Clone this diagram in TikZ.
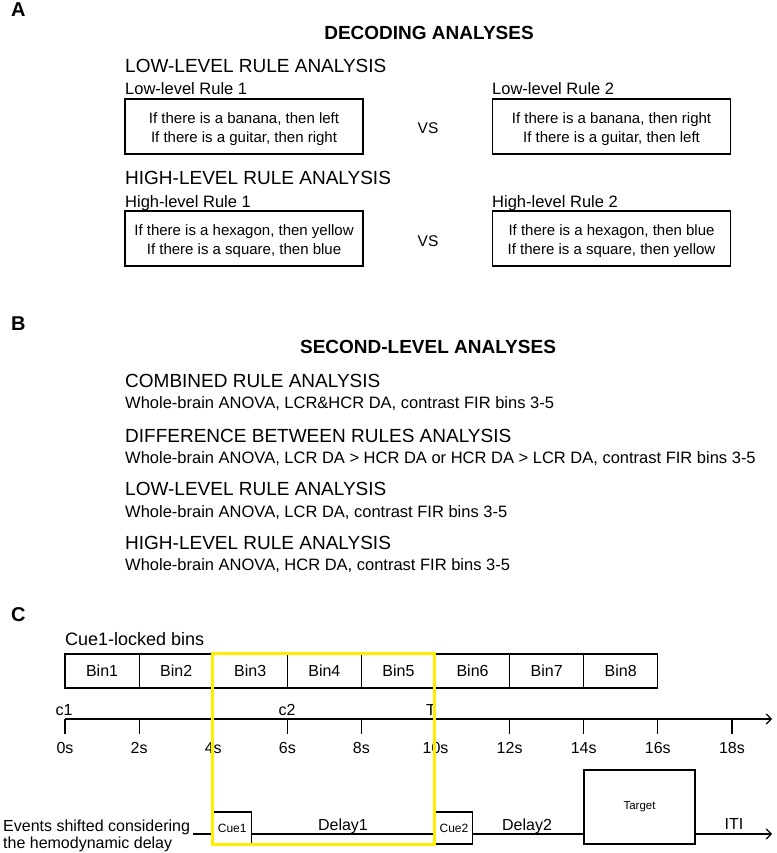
\documentclass[tikz,border=0pt]{standalone}
\usepackage{fontspec}
\setmainfont{Liberation Sans}
\usetikzlibrary{arrows.meta,positioning}

\definecolor{hiliteyellow}{RGB}{255,238,0}

\tikzset{
  letter/.style={anchor=base west, inner sep=0pt, font=\bfseries\fontsize{20}{24}\selectfont},
  paneltitle/.style={anchor=base, inner sep=0pt, font=\bfseries\fontsize{19}{23}\selectfont},
  heading/.style={anchor=base west, inner sep=0pt, font=\fontsize{19}{23}\selectfont},
  sublabel/.style={anchor=base west, inner sep=0pt, font=\fontsize{16.5}{20}\selectfont},
  rulebox/.style={draw, line width=1.7pt, minimum width=238, minimum height=55, inner sep=0pt},
  ruletext/.style={align=center, inner sep=0pt, font=\fontsize{15}{19}\selectfont},
  vs/.style={inner sep=0pt, font=\fontsize{15.5}{19}\selectfont},
  timeline/.style={line width=1.2pt},
  bin/.style={draw, line width=1.2pt, minimum width=74.1, minimum height=34, inner sep=0pt, font=\fontsize{16}{19}\selectfont},
  ticklabel/.style={anchor=base, inner sep=0pt, font=\fontsize{16}{19}\selectfont},
  evbox/.style={draw, line width=1.2pt, inner sep=0pt, font=\fontsize{12}{14}\selectfont},
  evlabel/.style={anchor=base, inner sep=0pt, font=\fontsize{16}{19}\selectfont},
  hilite/.style={draw=hiliteyellow, line width=3pt}
}

\begin{document}
\begin{tikzpicture}[x=1pt,y=-1pt]
\useasboundingbox (0,0) rectangle (776,853);

% A: decoding analyses
\node[letter] (letA) at (11,17) {A};
\node[paneltitle] (decoding) at (429,40) {DECODING ANALYSES};

\node[heading] (lowhead) at (125,73) {LOW-LEVEL RULE ANALYSIS};
\node[sublabel] (low1lab) at (125,95) {Low-level Rule 1};
\node[sublabel] (low2lab) at (492,95) {Low-level Rule 2};
\node[rulebox] (low1) at (244,126.5) {};
\node[rulebox] (low2) at (611.5,126.5) {};
\node[ruletext] (low1txt) at ([yshift=-3pt]low1.center) {If there is a banana, then left\\If there is a guitar, then right};
\node[ruletext] (low2txt) at ([yshift=-3pt]low2.center) {If there is a banana, then right\\If there is a guitar, then left};
\node[vs] (vslow) at (428,128.5) {VS};

\node[heading] (highhead) at (125,185) {HIGH-LEVEL RULE ANALYSIS};
\node[sublabel] (high1lab) at (125,207) {High-level Rule 1};
\node[sublabel] (high2lab) at (492,207) {High-level Rule 2};
\node[rulebox] (high1) at (244,238.5) {};
\node[rulebox] (high2) at (611.5,238.5) {};
\node[ruletext] (high1txt) at ([yshift=-3pt]high1.center) {If there is a hexagon, then yellow\\If there is a square, then blue};
\node[ruletext] (high2txt) at ([yshift=-3pt]high2.center) {If there is a hexagon, then blue\\If there is a square, then yellow};
\node[vs] (vshigh) at (428,241) {VS};

% B: second-level analyses
\node[letter] (letB) at (11,330) {B};
\node[paneltitle] (second) at (428,353) {SECOND-LEVEL ANALYSES};

\node[heading] (combhead) at (125,387) {COMBINED RULE ANALYSIS};
\node[sublabel] (combtxt) at (125,408) {Whole-brain ANOVA, LCR\&HCR DA, contrast FIR bins 3-5};
\node[heading] (diffhead) at (125,442) {DIFFERENCE BETWEEN RULES ANALYSIS};
\node[sublabel] (difftxt) at (125,463) {Whole-brain ANOVA, LCR DA > HCR DA or HCR DA > LCR DA, contrast FIR bins 3-5};
\node[heading] (lowhead2) at (125,495) {LOW-LEVEL RULE ANALYSIS};
\node[sublabel] (lowtxt2) at (125,517) {Whole-brain ANOVA, LCR DA, contrast FIR bins 3-5};
\node[heading] (highhead2) at (125,549) {HIGH-LEVEL RULE ANALYSIS};
\node[sublabel] (hightxt2) at (125,570) {Whole-brain ANOVA, HCR DA, contrast FIR bins 3-5};

% C: bins and timeline
\node[letter] (letC) at (11,621) {C};
\node[anchor=base west, inner sep=0pt, font=\fontsize{18}{21}\selectfont] (binlab) at (65,645) {Cue1-locked bins};

\foreach \i in {1,...,8}
  \node[bin] (bin\i) at ({65+74.1*(\i-0.5)},671) {Bin\i};

\coordinate (ax0) at (65,719);
\coordinate (axend) at (772,719);
\draw[timeline,-{Straight Barb[length=5pt,width=10pt]}] (ax0) -- (axend);
\foreach \i in {0,...,9} {
  \pgfmathtruncatemacro\sec{2*\i}
  \draw[timeline] ({65+74.1*\i},719) -- ({65+74.1*\i},734);
  \node[ticklabel] (t\i) at ({65+74.1*\i},753) {\sec s};
}
\node[ticklabel] (c1) at (64,715) {c1};
\node[ticklabel] (c2) at (287,715) {c2};
\node[ticklabel] (tgt) at (431,715) {T};

% shifted events
\node[anchor=base west, inner sep=0pt, font=\fontsize{16}{19}\selectfont] (events1) at (3,831.5) {Events shifted considering};
\node[anchor=base west, inner sep=0pt, font=\fontsize{16}{19}\selectfont] (events2) at (3,848) {the hemodynamic delay};
\coordinate (start) at (193,834);
\coordinate (evend) at (772,834);
\node[evbox, minimum width=38, minimum height=32] (cue1) at (232.2,828) {Cue1};
\node[evbox, minimum width=37, minimum height=32] (cue2) at (454,828) {Cue2};
\node[evbox, minimum width=111, minimum height=74, font=\fontsize{11.5}{14}\selectfont] (target) at (639.5,807) {Target};

\draw[timeline] (start) -- (start -| cue1.west);
\draw[timeline] (cue1.east |- start) -- (cue2.west |- start);
\draw[timeline] (cue2.east |- start) -- (target.west |- start);
\draw[timeline,-{Straight Barb[length=5pt,width=10pt]}] (target.east |- start) -- (evend);

\node[evlabel] (delay1) at (343,830) {Delay1};
\node[evlabel] (delay2) at (527,830) {Delay2};
\node[evlabel] (iti) at (734,829) {ITI};

% highlighted bins 3-5
\draw[hilite] (bin3.north west) rectangle (cue2.south west);

\end{tikzpicture}
\end{document}
